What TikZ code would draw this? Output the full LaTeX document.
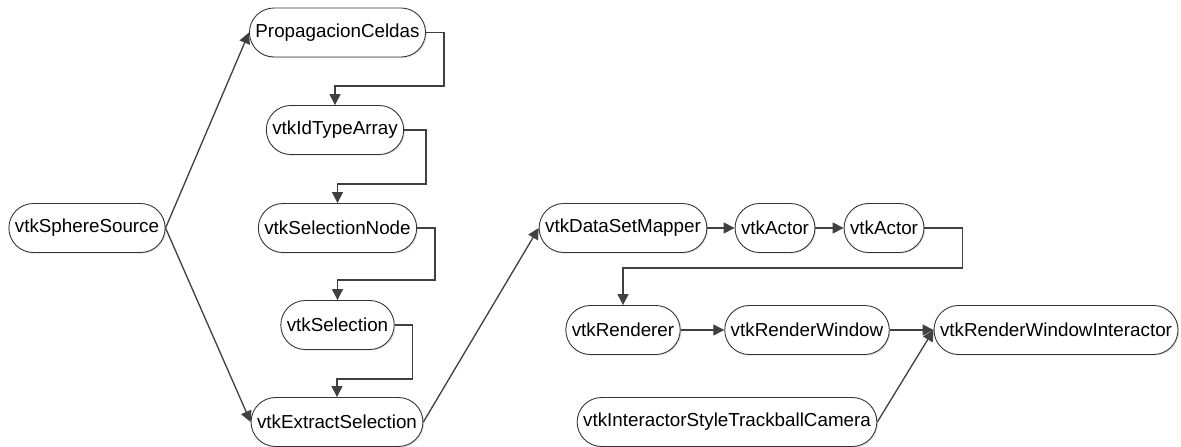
\documentclass[tikz,border=0pt]{standalone}
\usepackage{fontspec}
\setmainfont{Liberation Sans}
\usetikzlibrary{arrows.meta, calc, shadows}
\definecolor{lnkgray}{HTML}{404040}
\definecolor{boxgray}{HTML}{333333}

\begin{document}
\begin{tikzpicture}[
    >={Triangle[length=2.2mm, width=2.2mm]},
    every node/.style={font=\fontsize{10.7}{12}\selectfont, text=black},
    vtkbox/.style={draw=boxgray, line width=0.5pt, rectangle, fill=white,
      rounded corners=0.49cm, minimum height=0.98cm, inner xsep=0.12cm,
      drop shadow={shadow xshift=0.7pt, shadow yshift=-0.7pt, opacity=0.22}},
    link/.style={->, lnkgray, line width=0.75pt},
  ]
  \useasboundingbox (0,0) rectangle (23.62,-8.92);

  % === Source and the cell selection column ===
  \node[vtkbox] (sphere)  at (1.74,-4.56) {vtkSphereSource};
  \node[vtkbox] (prop)    at (6.75,-0.65) {PropagacionCeldas};
  \node[vtkbox] (idarr)   at (6.70,-2.60) {vtkIdTypeArray};
  \node[vtkbox] (selnode) at (6.75,-4.56) {vtkSelectionNode};
  \node[vtkbox] (sel)     at (6.75,-6.50) {vtkSelection};
  \node[vtkbox] (extract) at (6.74,-8.44) {vtkExtractSelection};

  % === Rendering pipeline ===
  \node[vtkbox] (mapper)   at (12.46,-4.56) {vtkDataSetMapper};
  \node[vtkbox] (actorA)   at (15.50,-4.56) {vtkActor};
  \node[vtkbox] (actorB)   at (17.68,-4.56) {vtkActor};
  \node[vtkbox] (renderer) at (12.46,-6.60) {vtkRenderer};
  \node[vtkbox] (renwin)   at (16.14,-6.60) {vtkRenderWindow};
  \node[vtkbox] (iren)     at (21.12,-6.60) {vtkRenderWindowInteractor};
  \node[vtkbox] (style)    at (14.54,-8.44) {vtkInteractorStyleTrackballCamera};

  % Fan out from the source
  \draw[link] (sphere.east) -- (prop.west);
  \draw[link] (sphere.east) -- (extract.west);

  % Elbow links down the column
  \draw[link] (prop.east) -- ++(0.36,0) |- ([yshift=0.38cm]idarr.north) -- (idarr.north);
  \draw[link] (idarr.east) -- ++(0.44,0) |- ([yshift=0.38cm]selnode.north) -- (selnode.north);
  \draw[link] (selnode.east) -- ++(0.36,0) |- ([yshift=0.40cm]sel.north) -- (sel.north);
  \draw[link] (sel.east) -- ++(0.36,0) |- ([yshift=0.36cm]extract.north) -- (extract.north);

  % Into the rendering pipeline
  \draw[link] (extract.east) -- (mapper.west);
  \draw[link] (mapper) -- (actorA);
  \draw[link] (actorA) -- (actorB);
  \draw[link] (actorB.east) -- ++(0.76,0) |- ([yshift=0.74cm]renderer.north) -- (renderer.north);
  \draw[link] (renderer) -- (renwin);
  \draw[link] (renwin) -- (iren);
  \draw[link] (style.east) -- (iren.west);

\end{tikzpicture}
\end{document}
